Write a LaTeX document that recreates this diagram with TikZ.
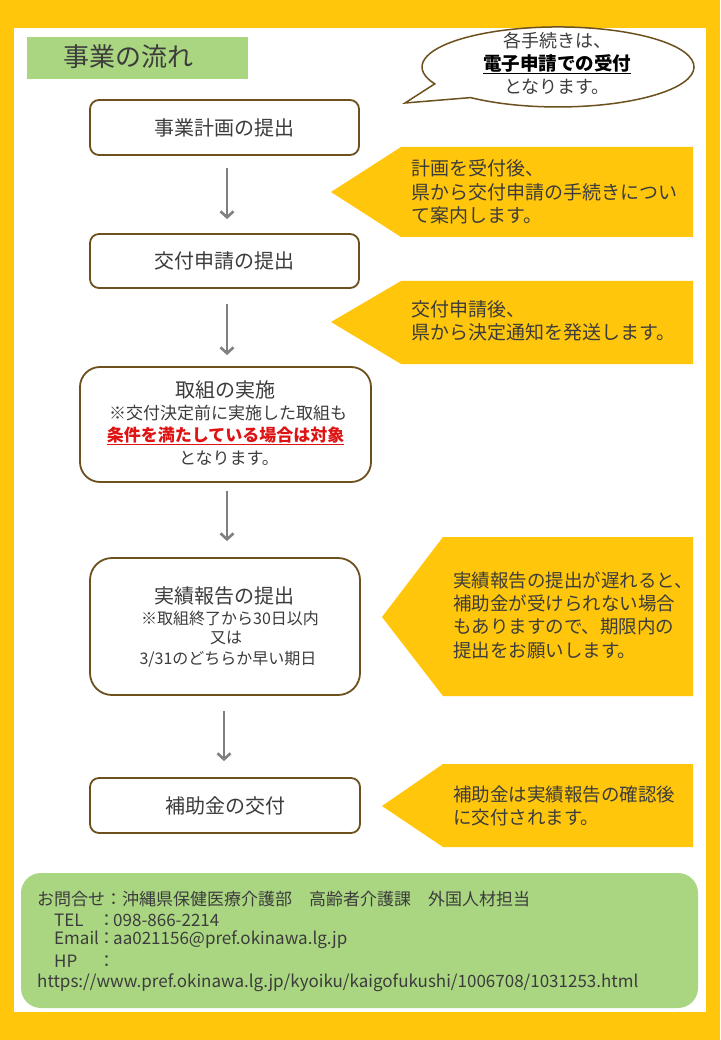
\documentclass[tikz,border=0pt]{standalone}
\usepackage{fontspec}
\setmainfont{Noto Sans CJK JP}
\usetikzlibrary{arrows.meta}
\definecolor{gold}{RGB}{255,198,12}
\definecolor{lgreen}{RGB}{170,214,130}
\definecolor{brownb}{RGB}{108,80,30}
\definecolor{txt}{RGB}{60,60,60}
\definecolor{redtxt}{RGB}{222,20,20}
\definecolor{arrowgrey}{RGB}{128,128,128}
\begin{document}
\begin{tikzpicture}[x=1pt,y=-1pt,
  stepbox/.style={draw=brownb, line width=1.8pt, fill=white, rounded corners=9pt, inner sep=0pt, text=txt, font=\fontsize{20}{24}\selectfont},
  arr/.style={draw=arrowgrey, line width=2.6pt, -{Straight Barb[length=6pt,width=13pt]}},
  callout/.style={fill=gold},
  ctext/.style={anchor=west, align=left, text=txt, inner sep=0pt, font=\fontsize{19}{23.5}\selectfont},
  ltext/.style={inner sep=0pt, text=txt},
  info/.style={anchor=west, inner sep=0pt, text=txt, font=\fontsize{17}{20}\selectfont}
]
% background
\fill[gold] (0,0) rectangle (720,1040);
\useasboundingbox (0,0) rectangle (720,1040);
\fill[white] (14,28) rectangle (706,1012);

% title
\node[fill=lgreen, minimum width=221pt, minimum height=42pt, inner sep=0pt] (title) at (137.5,58) {};
\node[ltext, anchor=west, font=\fontsize{26}{30}\selectfont] (titletext) at (63,57) {事業の流れ};

% speech bubble
\filldraw[fill=white, draw=brownb, line width=1.5pt] (405,103) -- (470.6,97.6)
  arc[start angle=130, end angle=-205, x radius=136, y radius=40] -- cycle;
\node[ltext, font=\fontsize{18}{21}\selectfont] (b1) at (557,41) {各手続きは、};
\node[ltext, text=black, font=\fontsize{18.5}{21}\selectfont\bfseries] (b2) at (557,64) {\underline{電子申請での受付}};
\node[ltext, font=\fontsize{18}{21}\selectfont] (b3) at (557,87) {となります。};

% steps
\node[stepbox, minimum width=269pt, minimum height=55pt] (s1) at (224.5,127.5) {事業計画の提出};
\node[stepbox, minimum width=269pt, minimum height=54pt] (s2) at (224.5,261) {交付申請の提出};
\node[stepbox, rounded corners=20pt, minimum width=291pt, minimum height=115pt] (s3) at (225.5,424.5) {};
\node[stepbox, rounded corners=22pt, minimum width=270pt, minimum height=137pt] (s4) at (225,626.5) {};
\node[stepbox, minimum width=270pt, minimum height=55pt] (s5) at (225,805.5) {補助金の交付};

% step 3 text
\node[ltext, font=\fontsize{20}{24}\selectfont] (s3a) at (225.5,390) {取組の実施};
\node[ltext, font=\fontsize{17}{20}\selectfont] (s3b) at (228,413) {※交付決定前に実施した取組も};
\node[ltext, text=redtxt, font=\fontsize{17}{20}\selectfont\bfseries] (s3c) at (225.5,436) {\underline{条件を満たしている場合は対象}};
\node[ltext, font=\fontsize{17}{20}\selectfont] (s3d) at (229,458) {となります。};

% step 4 text
\node[ltext, font=\fontsize{20}{24}\selectfont] (s4a) at (224,596) {実績報告の提出};
\node[ltext, font=\fontsize{16}{20}\selectfont] (s4b) at (230,618) {※取組終了から30日以内};
\node[ltext, font=\fontsize{16}{20}\selectfont] (s4c) at (226,638) {又は};
\node[ltext, font=\fontsize{16}{20}\selectfont] (s4d) at (228,659) {3/31のどちらか早い期日};

% arrows
\draw[arr, shorten <=12pt, shorten >=14pt] ([xshift=2.5pt]s1.south) -- ([xshift=2.5pt]s2.north);
\draw[arr, shorten <=15pt, shorten >=11pt] ([xshift=2.5pt]s2.south) -- ([xshift=1.5pt]s3.north);
\draw[arr, shorten <=8pt, shorten >=16pt] ([xshift=1.5pt]s3.south) -- ([xshift=2pt]s4.north);
\draw[arr, shorten <=15pt, shorten >=16pt] ([xshift=-1pt]s4.south) -- ([xshift=-1pt]s5.north);

% callouts
\fill[callout] (331,192) -- (401,147) -- (693,147) -- (693,237) -- (401,237) -- cycle;
\node[ctext] (c1) at (411,192) {計画を受付後、\\県から交付申請の手続きについ\\て案内します。};
\fill[callout] (331,322) -- (401,281) -- (693,281) -- (693,364) -- (401,364) -- cycle;
\node[ctext] (c2) at (411,321) {交付申請後、\\県から決定通知を発送します。};
\fill[callout] (382,617) -- (443,537) -- (693,537) -- (693,696) -- (443,696) -- cycle;
\node[ctext, font=\fontsize{18.5}{23.3}\selectfont] (c4) at (453,615) {実績報告の提出が遅れると、\\補助金が受けられない場合\\もありますので、期限内の\\提出をお願いします。};
\fill[callout] (382,806) -- (443,764) -- (693,764) -- (693,847) -- (443,847) -- cycle;
\node[ctext, font=\fontsize{18.5}{23}\selectfont] (c5) at (453,806) {補助金は実績報告の確認後\\に交付されます。};

% contact box
\node[fill=lgreen, rounded corners=20pt, minimum width=677pt, minimum height=135pt, inner sep=0pt] (contact) at (359.5,940.5) {};
\node[info] (i1) at (37,899) {お問合せ：沖縄県保健医療介護部　高齢者介護課　外国人材担当};
\node[info] (i2) at (54,920) {\makebox[44pt][l]{TEL}\makebox[17pt]{：}\hspace{-2pt}098-866-2214};
\node[info] (i3) at (54,940) {\makebox[44pt][l]{Email}\makebox[17pt]{：}\hspace{-2pt}aa021156@pref.okinawa.lg.jp};
\node[info] (i4) at (54,961) {\makebox[44pt][l]{HP}\makebox[17pt]{：}};
\node[info] (i5) at (37,983) {https://www.pref.okinawa.lg.jp/kyoiku/kaigofukushi/1006708/1031253.html};
\end{tikzpicture}
\end{document}
